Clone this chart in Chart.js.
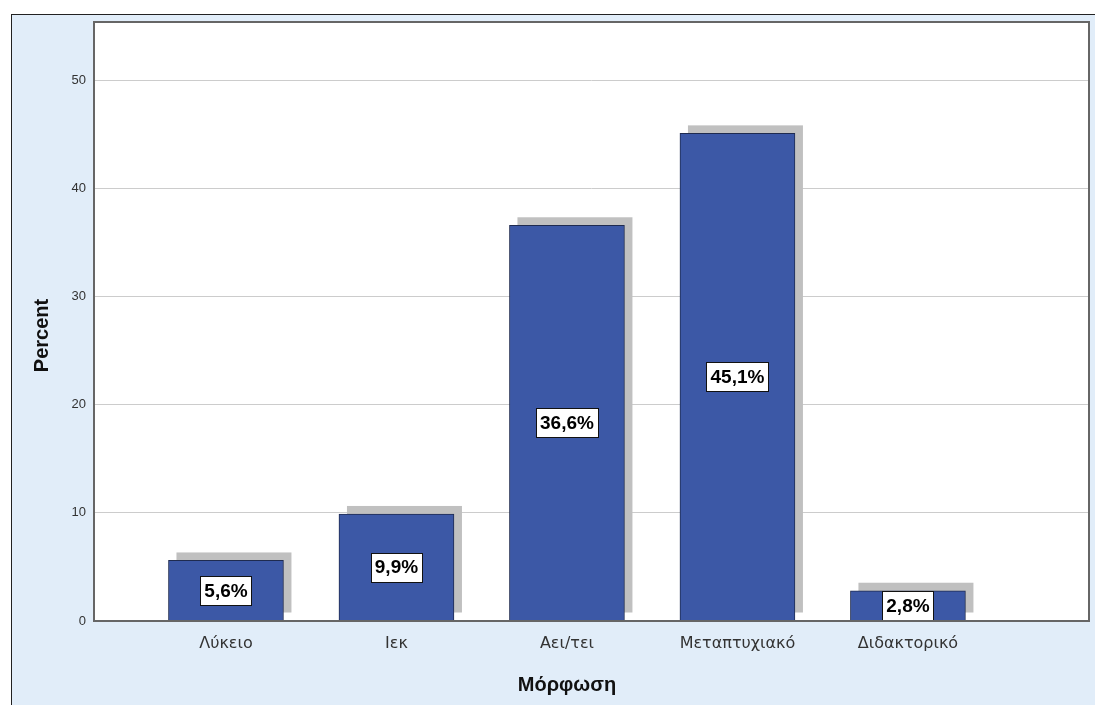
<!DOCTYPE html>
<html>
<head>
<meta charset="utf-8">
<script src="https://cdn.jsdelivr.net/npm/chart.js@4.4.1/dist/chart.umd.min.js"></script>
<style>
  html, body { margin: 0; padding: 0; background: #ffffff; }
  #frame {
    position: absolute; left: 11px; top: 14px;
    width: 1084px; height: 691px;
    background: #e1edf9;
    border-left: 1px solid #222; border-top: 1px solid #222;
  }
  #chart { display: block; }
</style>
</head>
<body>
<div id="frame">
  <canvas id="chart" width="1083" height="690"></canvas>
</div>
<script>
// Datos del gráfico
const categorias = ['Λύκειο', 'Ιεκ', 'Αει/τει', 'Μεταπτυχιακό', 'Διδακτορικό'];
const porcentajes = [5.6, 9.9, 36.6, 45.1, 2.8];
const ticksY = [0, 10, 20, 30, 40, 50];
const tituloX = 'Μόρφωση';
const tituloY = 'Percent';

const puntos = porcentajes.map((v, i) => ({ x: i + 1, y: v }));

// Sombra gris detrás de cada barra
const sombraPlugin = {
  id: 'sombra',
  beforeDatasetsDraw(chart) {
    const ctx = chart.ctx;
    const meta = chart.getDatasetMeta(0);
    ctx.save();
    ctx.fillStyle = '#c0c0c0';
    meta.data.forEach(bar => {
      const w = bar.width;
      ctx.fillRect(bar.x - w / 2 + 8, bar.y - 8, w, bar.base - bar.y);
    });
    ctx.restore();
  }
};

// Etiquetas con recuadro blanco
const etiquetasPlugin = {
  id: 'etiquetas',
  afterDatasetsDraw(chart) {
    const ctx = chart.ctx;
    const meta = chart.getDatasetMeta(0);
    ctx.save();
    ctx.font = 'bold 19px "Liberation Sans", Arial, sans-serif';
    ctx.textAlign = 'center';
    ctx.textBaseline = 'middle';
    meta.data.forEach((bar, i) => {
      const texto = porcentajes[i].toFixed(1).replace('.', ',') + '%';
      const cx = bar.x;
      const cy = (bar.y + bar.base) / 2;
      const w = Math.round(ctx.measureText(texto).width + 8);
      const h = 29;
      const x0 = Math.round(cx - w / 2) + 0.5;
      const y0 = Math.round(cy - h / 2) + 0.5;
      ctx.fillStyle = '#ffffff';
      ctx.fillRect(x0, y0, w, h);
      ctx.strokeStyle = '#111';
      ctx.lineWidth = 1;
      ctx.strokeRect(x0, y0, w, h);
      ctx.fillStyle = '#000';
      ctx.fillText(texto, cx, cy + 1);
    });
    ctx.restore();
  }
};

// Marco del área de trazado y títulos de ejes
const marcoPlugin = {
  id: 'marco',
  afterDraw(chart) {
    const a = chart.chartArea;
    const ctx = chart.ctx;
    ctx.save();
    ctx.strokeStyle = '#666';
    ctx.lineWidth = 2;
    ctx.strokeRect(a.left, a.top, a.right - a.left, a.bottom - a.top);

    ctx.fillStyle = '#111';
    ctx.font = 'bold 20px "Liberation Sans", Arial, sans-serif';
    ctx.textAlign = 'center';
    ctx.textBaseline = 'middle';
    // título X centrado sobre la categoría central
    const xs = chart.scales.x;
    ctx.fillText(tituloX, xs.getPixelForValue(3), 670);
    // título Y
    ctx.translate(30, (a.top + a.bottom) / 2 + 14);
    ctx.rotate(-Math.PI / 2);
    ctx.fillText(tituloY, 0, 0);
    ctx.restore();
  }
};

const fondoPlugin = {
  id: 'fondo',
  beforeDraw(chart) {
    const a = chart.chartArea;
    const ctx = chart.ctx;
    ctx.save();
    ctx.fillStyle = '#ffffff';
    ctx.fillRect(a.left, a.top, a.right - a.left, a.bottom - a.top);
    ctx.restore();
  }
};

new Chart(document.getElementById('chart'), {
  type: 'bar',
  data: {
    datasets: [{
      data: puntos,
      backgroundColor: '#3c58a6',
      borderColor: '#1f2b50',
      borderWidth: 1,
      barThickness: 115
    }]
  },
  plugins: [fondoPlugin, sombraPlugin, etiquetasPlugin, marcoPlugin],
  options: {
    responsive: false,
    animation: false,
    layout: { padding: { left: 0, top: 7, right: 6, bottom: 0 } },
    plugins: {
      legend: { display: false },
      tooltip: { enabled: false }
    },
    scales: {
      x: {
        type: 'linear',
        offset: false,
        min: 0.226,
        max: 6.062,
        afterBuildTicks: s => { s.ticks = categorias.map((c, i) => ({ value: i + 1 })); },
        afterFit: s => { s.height = 84; s.paddingLeft = 0; s.paddingRight = 0; },
        grid: { display: false, drawTicks: false },
        border: { display: false },
        ticks: {
          padding: 13,
          color: '#333',
          font: { family: '"DejaVu Sans", sans-serif', size: 16 },
          callback: v => categorias[v - 1]
        }
      },
      y: {
        min: 0,
        max: 55.4,
        afterBuildTicks: s => { s.ticks = ticksY.map(v => ({ value: v })); },
        afterFit: s => { s.width = 82; s.paddingTop = 0; s.paddingBottom = 0; },
        grid: { color: '#cccccc', lineWidth: 1, drawTicks: false },
        border: { display: false },
        ticks: {
          padding: 8,
          color: '#333',
          font: { family: '"Liberation Sans", Arial, sans-serif', size: 13 }
        }
      }
    }
  }
});
</script>
</body>
</html>
